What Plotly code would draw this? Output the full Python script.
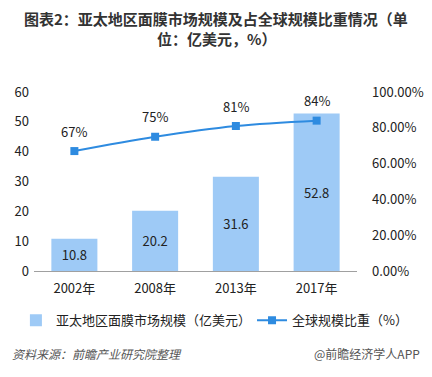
import plotly.graph_objects as go

years = ["2002年", "2008年", "2013年", "2017年"]
market_size = [10.8, 20.2, 31.6, 52.8]
global_share = [0.67, 0.75, 0.81, 0.84]
share_labels = ["67%", "75%", "81%", "84%"]

FONT = "Noto Sans CJK SC, Microsoft YaHei, sans-serif"
TXT = "#222222"

fig = go.Figure()
fig.add_trace(go.Bar(
    x=years, y=market_size, name="亚太地区面膜市场规模（亿美元）",
    marker=dict(color="#9ECAF6", line=dict(width=0)),
    text=[f"{v:.1f}" for v in market_size], textposition="inside",
    insidetextanchor="middle", textfont=dict(size=13, color=TXT),
    yaxis="y", cliponaxis=False, legend="legend",
))
fig.add_trace(go.Scatter(
    x=years, y=global_share, name="全球规模比重（%）", mode="lines+markers",
    line=dict(color="#2E8BE0", width=2, shape="spline"),
    marker=dict(symbol="square", size=8, color="#2E8BE0"),
    yaxis="y2", cliponaxis=False, legend="legend2",
))

leg_common = dict(orientation="h", yref="paper", y=-0.275, yanchor="middle",
                  font=dict(size=13, color=TXT), bgcolor="rgba(0,0,0,0)")

annotations = [
    dict(text=lab, x=yr, y=v, xref="x", yref="y2", yshift=20, showarrow=False,
         font=dict(size=13, color=TXT))
    for yr, v, lab in zip(years, global_share, share_labels)
]
annotations += [
    dict(text="<b>图表2：亚太地区面膜市场规模及占全球规模比重情况（单</b>",
         xref="paper", yref="paper", x=0.565, y=1.413, xanchor="center", yanchor="middle",
         showarrow=False, font=dict(size=15, color="#333333")),
    dict(text="<b>位：亿美元，%）</b>",
         xref="paper", yref="paper", x=0.565, y=1.30, xanchor="center", yanchor="middle",
         showarrow=False, font=dict(size=15, color="#333333")),
    dict(text="<i>资料来源：前瞻产业研究院整理</i>", xref="paper", yref="paper",
         x=-0.074, y=-0.46, xanchor="left", yanchor="middle", showarrow=False,
         font=dict(size=12, color="#555555")),
    dict(text="@前瞻经济学人APP", xref="paper", yref="paper",
         x=1.2, y=-0.46, xanchor="right", yanchor="middle", showarrow=False,
         font=dict(size=12, color="#555555")),
]

fig.update_layout(
    width=424, height=369,
    margin=dict(l=25.5, r=74.5, t=84, b=106, autoexpand=False),
    paper_bgcolor="white", plot_bgcolor="white",
    font=dict(family=FONT, size=13, color=TXT),
    bargap=0.43,
    showlegend=True,
    legend=dict(x=-0.056, xanchor="left", itemwidth=30, **leg_common),
    legend2=dict(x=0.675, xanchor="left", itemwidth=30, **leg_common),
    xaxis=dict(showline=True, linecolor="#A0A0A0", linewidth=1, ticks="",
               tickfont=dict(size=13, color=TXT), showgrid=False, ticklabelstandoff=5),
    yaxis=dict(range=[0, 60], dtick=10, showgrid=False, zeroline=False,
               tickfont=dict(size=13, color=TXT), ticklabelstandoff=4),
    yaxis2=dict(range=[0, 1], dtick=0.2, tickformat=".2%", overlaying="y", side="right",
                showgrid=False, zeroline=False, tickfont=dict(size=13, color=TXT),
                ticklabelstandoff=14),
    annotations=annotations,
)

fig.write_html("out.html")
